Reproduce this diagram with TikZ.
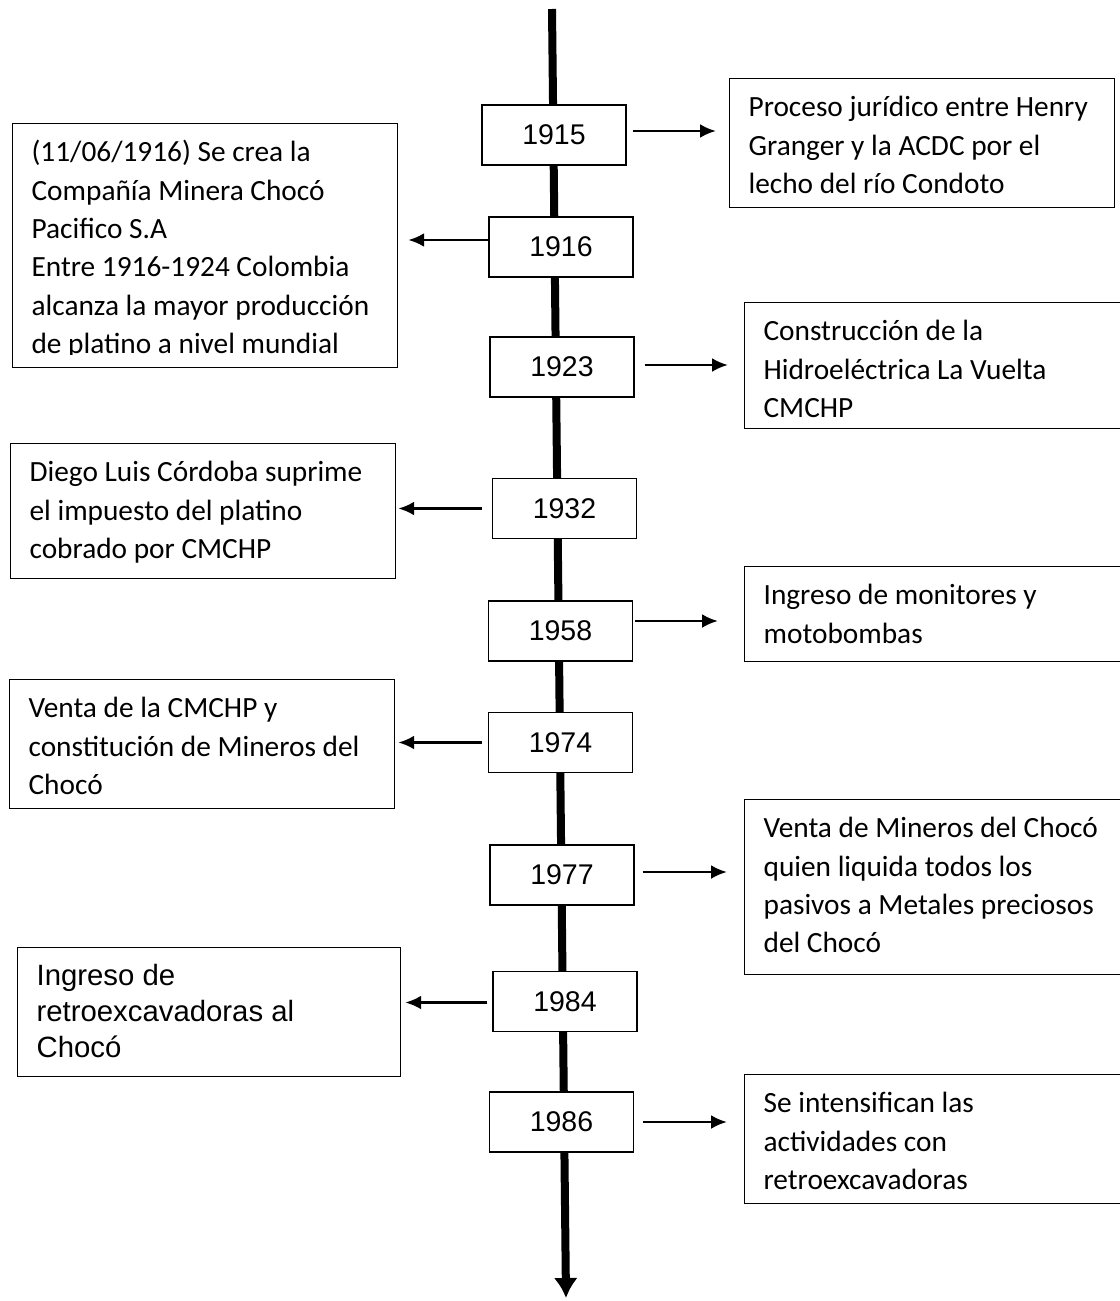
\documentclass[tikz,border=0pt]{standalone}
\usepackage{fontspec}
\setmainfont{Carlito}
\newfontfamily\arial{Liberation Sans}
\usetikzlibrary{arrows.meta}

\newcommand\infofont{\fontsize{29.33}{38.4}\selectfont}
\newcommand\arialfont{\arial\fontsize{29.33}{36}\selectfont}
\newcommand\yearfont{\arial\fontsize{28.5}{30}\selectfont}

\begin{document}
\begin{tikzpicture}[
  x=1pt, y=-1pt,
  >={Latex[length=16pt,width=14pt]},
  year/.style={rectangle, draw, line width=1.2pt, fill=white, minimum width=144pt, minimum height=60pt, font=\yearfont},
  info/.style={rectangle, draw, line width=1.2pt, anchor=north west, align=flush left, inner xsep=19pt, inner ysep=0pt, text width=347pt, text height=38pt, font=\infofont},
  arrow/.style={->, line width=2.8pt},
  spine/.style={-{Latex[length=20pt,width=24pt]}, line width=8pt}
]
\useasboundingbox (0,0) rectangle (1119,1301);

% Timeline
\coordinate (top) at (552,9);
\coordinate (bottom) at (566,1298);
\draw[spine] (top) -- (bottom);

% Years
\node[year] (y1915) at (554,135) {1915};
\node[year] (y1916) at (561,247) {1916};
\node[year] (y1923) at (562,367) {1923};
\node[year] (y1932) at (564.5,508.5) {1932};
\node[year] (y1958) at (560.5,631) {1958};
\node[year] (y1974) at (560.5,742.5) {1974};
\node[year] (y1977) at (562,875) {1977};
\node[year] (y1984) at (565,1001.5) {1984};
\node[year] (y1986) at (561.5,1122) {1986};

% Events right
\node[info, text depth=91pt] (t1915) at (729,78) {Proceso jurídico entre Henry\\Granger y la ACDC por el\\lecho del río Condoto};
\node[info, text depth=88pt, text width=362pt] (t1923) at (744,302) {Construcción de la\\Hidroeléctrica La Vuelta\\CMCHP};
\node[info, text depth=57pt, text width=362pt] (t1958) at (744,566) {Ingreso de monitores y\\motobombas};
\node[info, text depth=137pt, text width=362pt] (t1977) at (744,799) {Venta de Mineros del Chocó\\quien liquida todos los\\pasivos a Metales preciosos\\del Chocó};
\node[info, text depth=91pt, text width=362pt] (t1986) at (744,1074) {Se intensifican las\\actividades con\\retroexcavadoras};

% Events left
\node[info, text depth=206pt] (t1916) at (12,123) {(11/06/1916) Se crea la\\Compañía Minera Chocó\\Pacifico S.A\\Entre 1916-1924 Colombia\\alcanza la mayor producción\\de platino a nivel mundial};
\fill[white] ([xshift=1pt,yshift=1pt]t1916.south west) rectangle ([xshift=-1pt,yshift=13pt]t1916.south east);
\node[info, text depth=97pt] (t1932) at (10,443) {Diego Luis Córdoba suprime\\el impuesto del platino\\cobrado por CMCHP};
\node[info, text depth=91pt] (t1974) at (9,679) {Venta de la CMCHP y\\constitución de Mineros del\\Chocó};
\node[info, text depth=91pt, text width=345pt, font=\arialfont] (t1984) at (17,947) {Ingreso de\\retroexcavadoras al\\Chocó};

% Arrows
\draw[arrow, shorten <=6pt, shorten >=13pt] ([yshift=4pt]y1915.east) -- ([yshift=4pt]y1915.east -| t1915.west);
\draw[arrow, shorten >=10pt] ([yshift=7pt]y1916.west) -- ([yshift=7pt]y1916.west -| t1916.east);
\draw[arrow, shorten <=10pt, shorten >=16pt] ([yshift=2pt]y1923.east) -- ([yshift=2pt]y1923.east -| t1923.west);
\draw[arrow, shorten <=10pt, shorten >=2pt] (y1932.west) -- (y1932.west -| t1932.east);
\draw[arrow, shorten <=2pt, shorten >=26pt] ([yshift=10pt]y1958.east) -- ([yshift=10pt]y1958.east -| t1958.west);
\draw[arrow, shorten <=6pt, shorten >=3pt] (y1974.west) -- (y1974.west -| t1974.east);
\draw[arrow, shorten <=8pt, shorten >=17pt] ([yshift=3pt]y1977.east) -- ([yshift=3pt]y1977.east -| t1977.west);
\draw[arrow, shorten <=5pt, shorten >=4pt] ([yshift=-1pt]y1984.west) -- ([yshift=-1pt]y1984.west -| t1984.east);
\draw[arrow, shorten <=9pt, shorten >=17pt] (y1986.east) -- (y1986.east -| t1986.west);

\end{tikzpicture}
\end{document}
